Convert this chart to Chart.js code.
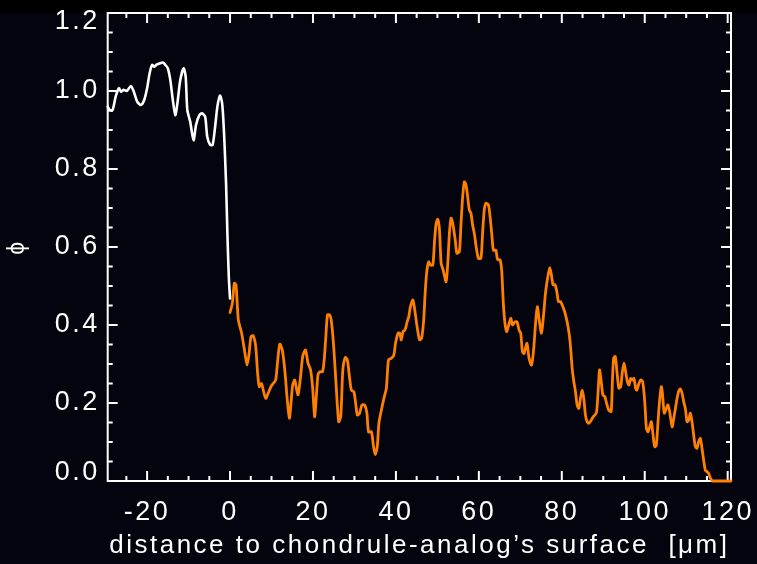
<!DOCTYPE html>
<html><head><meta charset="utf-8">
<script src="https://cdn.jsdelivr.net/npm/chart.js@4"></script>
<style>html,body{margin:0;padding:0;background:#04040e;}#wrap{position:relative;width:757px;height:564px;}</style>
</head><body><div id="wrap"><canvas id="c"></canvas></div>
<script>
const xWhite = [-29.5,-29.0,-28.4,-28.0,-27.6,-26.8,-26.3,-25.7,-24.9,-23.9,-23.2,-22.4,-21.5,-20.7,-20.0,-19.4,-18.8,-18.3,-17.8,-16.8,-16.2,-15.6,-15.0,-14.4,-13.8,-13.2,-12.7,-12.0,-11.2,-10.7,-10.3,-9.6,-8.8,-8.2,-7.4,-6.8,-6.0,-5.5,-4.8,-4.2,-3.6,-3.05,-2.4,-1.9,-1.44,-0.96,-0.64,-0.3,0.0];
const yWhite = [0.96,0.951,0.95,0.964,0.985,1.007,0.998,1.003,1.0,1.013,0.998,0.973,0.964,0.977,1.007,1.045,1.067,1.062,1.067,1.071,1.073,1.067,1.058,1.028,0.977,0.938,0.968,1.028,1.058,1.037,0.951,0.921,0.874,0.913,0.938,0.943,0.934,0.883,0.862,0.862,0.908,0.96,0.988,0.968,0.891,0.763,0.635,0.524,0.468];

const xOrange = [0.0,0.56,1.04,1.44,2.0,2.8,3.6,4.1,4.6,5.05,5.6,6.2,6.65,7.05,7.6,8.0,8.6,9.2,9.86,10.4,11.0,11.5,12.0,12.6,13.2,13.8,14.3,14.7,15.1,15.6,16.0,16.4,17.0,17.55,18.2,18.8,19.4,19.9,20.4,20.8,21.2,21.6,22.3,22.7,23.1,23.5,24.0,24.4,25.0,25.6,26.2,26.7,27.2,27.8,28.3,28.8,29.25,29.9,30.7,31.25,31.8,32.45,33.0,33.4,34.1,34.6,35.0,35.5,35.9,36.5,37.1,37.7,38.2,38.9,39.5,39.9,40.5,40.9,41.3,41.7,42.2,42.7,43.1,43.5,44.1,44.6,45.1,45.7,46.2,46.7,47.0,47.4,47.9,48.3,48.9,49.3,49.7,50.1,50.5,50.9,51.4,52.1,52.5,52.9,53.3,53.7,54.3,54.7,55.3,55.7,56.1,56.5,56.9,57.3,57.7,58.1,58.5,58.9,59.4,59.9,60.5,60.9,61.3,61.7,62.3,62.7,63.1,63.5,64.1,64.5,65.1,65.5,65.9,66.3,66.7,67.1,67.7,68.1,68.7,69.2,69.7,70.1,70.5,70.9,71.6,72.1,72.7,73.2,73.7,74.1,74.5,75.1,75.6,76.1,76.7,77.1,77.5,77.9,78.4,78.8,79.2,79.7,80.4,80.9,81.5,82.0,82.5,82.9,83.3,83.7,84.1,84.5,84.9,85.3,85.7,86.1,86.5,87.1,87.6,88.0,88.4,88.8,89.1,89.5,89.9,90.4,90.8,91.3,91.9,92.2,92.5,92.9,93.3,93.75,94.2,94.6,95.0,95.4,95.8,96.2,96.6,97.0,97.4,97.8,98.1,98.6,99.0,99.5,100.0,100.4,100.8,101.2,101.6,102.0,102.4,102.8,103.2,103.6,104.0,104.3,104.7,105.2,105.6,106.0,106.6,107.0,107.4,107.8,108.2,108.6,109.0,109.4,109.8,110.2,110.6,111.0,111.4,111.8,112.2,112.6,113.0,113.4,113.8,114.2,114.6,115.0,115.4,115.8,116.35,120.8];
const yOrange = [0.432,0.456,0.507,0.503,0.413,0.379,0.327,0.297,0.327,0.370,0.372,0.344,0.276,0.242,0.25,0.233,0.212,0.225,0.242,0.25,0.259,0.31,0.351,0.336,0.285,0.208,0.161,0.199,0.246,0.259,0.238,0.221,0.267,0.321,0.336,0.302,0.286,0.242,0.165,0.216,0.272,0.280,0.28,0.31,0.37,0.426,0.426,0.413,0.344,0.242,0.152,0.165,0.285,0.317,0.31,0.267,0.233,0.228,0.169,0.174,0.195,0.195,0.174,0.126,0.126,0.088,0.068,0.088,0.148,0.182,0.212,0.238,0.31,0.315,0.323,0.353,0.379,0.379,0.362,0.383,0.387,0.408,0.421,0.447,0.464,0.434,0.396,0.362,0.366,0.413,0.473,0.533,0.562,0.554,0.554,0.614,0.661,0.671,0.644,0.558,0.541,0.511,0.558,0.635,0.674,0.661,0.618,0.584,0.588,0.661,0.729,0.767,0.759,0.729,0.695,0.686,0.656,0.635,0.597,0.571,0.571,0.635,0.695,0.712,0.708,0.678,0.635,0.592,0.592,0.568,0.567,0.541,0.456,0.404,0.383,0.396,0.417,0.40,0.408,0.408,0.387,0.379,0.332,0.327,0.353,0.315,0.297,0.336,0.408,0.447,0.417,0.379,0.426,0.485,0.528,0.547,0.528,0.503,0.503,0.485,0.460,0.46,0.443,0.426,0.396,0.357,0.289,0.255,0.229,0.195,0.186,0.212,0.233,0.212,0.169,0.152,0.148,0.156,0.165,0.169,0.178,0.238,0.285,0.255,0.221,0.216,0.199,0.182,0.178,0.255,0.315,0.319,0.280,0.238,0.242,0.280,0.302,0.280,0.255,0.246,0.263,0.259,0.263,0.238,0.233,0.250,0.259,0.255,0.203,0.135,0.126,0.139,0.152,0.118,0.088,0.092,0.152,0.208,0.242,0.221,0.174,0.186,0.195,0.178,0.139,0.161,0.186,0.212,0.231,0.236,0.225,0.203,0.186,0.152,0.156,0.174,0.152,0.118,0.088,0.084,0.101,0.109,0.084,0.054,0.028,0.024,0.020,0.008,0,0];

const xTickValues = [-20,0,20,40,60,80,100,120];
const xTickLabels = ['-20','0','20','40','60','80','100','120'];
const yTickValues = [0,0.2,0.4,0.6,0.8,1.0,1.2];
const yTickLabels = ['0.0','0.2','0.4','0.6','0.8','1.0','1.2'];
const xTitle = 'distance to chondrule-analog\u2019s surface  [\u03BCm]';
const yTitle = '\u03D5';

const FONT = '"Liberation Sans", Arial, Helvetica, "DejaVu Sans", sans-serif';
const BG = '#04040e';

const idx = (arr, v) => arr.findIndex(m => Math.abs(m - v) < 1e-6);

const frame = {
  id: 'frame',
  beforeDraw(chart) {
    const ctx = chart.ctx;
    ctx.save();
    ctx.fillStyle = BG;
    ctx.fillRect(0, 0, chart.width, chart.height);
    ctx.fillStyle = '#000000';
    ctx.fillRect(0, 0, chart.width, 13);
    ctx.restore();
    ctx.letterSpacing = '2.5px';
  },
  beforeDatasetsDraw(chart) {
    const ctx = chart.ctx;
    const {left, right, top, bottom} = chart.chartArea;
    ctx.save();
    ctx.strokeStyle = '#ffffff';
    ctx.lineWidth = 2;
    ctx.lineCap = 'butt';
    ctx.strokeRect(left, top, right - left, bottom - top);
    ctx.beginPath();
    const xs = chart.scales.x;
    xs.ticks.forEach(t => {
      const p = xs.getPixelForValue(t.value);
      const L = idx(xTickValues, t.value) >= 0 ? 10 : 5;
      ctx.moveTo(p, bottom); ctx.lineTo(p, bottom - L);
      ctx.moveTo(p, top); ctx.lineTo(p, top + L);
    });
    const ys = chart.scales.y;
    ys.ticks.forEach(t => {
      const p = ys.getPixelForValue(t.value);
      const L = idx(yTickValues, t.value) >= 0 ? 10 : 5;
      ctx.moveTo(left, p); ctx.lineTo(left + L, p);
      ctx.moveTo(right, p); ctx.lineTo(right - L, p);
    });
    ctx.stroke();
    ctx.restore();
  }
};

new Chart(document.getElementById('c'), {
  type: 'line',
  data: {
    datasets: [
      {
        data: xWhite.map((x, i) => ({x: x, y: yWhite[i]})),
        borderColor: '#ffffff', borderWidth: 2.6, pointRadius: 0, fill: false, tension: 0.25, clip: false,
        borderJoinStyle: 'round', borderCapStyle: 'round'
      },
      {
        data: xOrange.map((x, i) => ({x: x, y: yOrange[i]})),
        borderColor: '#ff8000', borderWidth: 2.8, pointRadius: 0, fill: false, tension: 0.25, clip: false,
        borderJoinStyle: 'round', borderCapStyle: 'round'
      }
    ]
  },
  options: {
    responsive: true,
    maintainAspectRatio: false,
    devicePixelRatio: 1,
    animation: false,
    layout: {padding: {left: 0, right: 26, top: 13, bottom: 0}},
    plugins: {legend: {display: false}, tooltip: {enabled: false}},
    scales: {
      x: {
        type: 'linear', min: -29.5, max: 120.8,
        grid: {display: false, drawTicks: false},
        border: {display: false},
        ticks: {
          stepSize: 5, includeBounds: false, autoSkip: false, maxRotation: 0, minRotation: 0,
          color: '#ffffff', padding: 15,
          font: {family: FONT, size: 27, lineHeight: 1.2},
          callback: v => { const i = idx(xTickValues, v); return i < 0 ? '' : xTickLabels[i]; }
        },
        title: {display: true, text: xTitle, color: '#ffffff', font: {family: FONT, size: 26, lineHeight: 1.2}, padding: {top: 0, bottom: 2.5}},
        afterFit: s => { s.height = 83; s.paddingLeft = 0; s.paddingRight = 0; s.paddingTop = 0; s.paddingBottom = 0; }
      },
      y: {
        type: 'linear', min: 0, max: 1.2,
        grid: {display: false, drawTicks: false},
        border: {display: false},
        ticks: {
          stepSize: 0.05, includeBounds: false, autoSkip: false,
          color: '#ffffff', padding: 8,
          font: {family: FONT, size: 27, lineHeight: '17px'},
          callback: v => {
            const i = idx(yTickValues, v);
            if (i < 0) return '';
            if (i === 0) return [yTickLabels[i], ''];
            if (i === yTickValues.length - 1) return ['', yTickLabels[i]];
            return yTickLabels[i];
          }
        },
        title: {display: true, text: yTitle, color: '#ffffff', font: {family: FONT, size: 23, lineHeight: '24px'}, padding: {top: 6, bottom: 0}},
        afterFit: s => { s.width = 107.7; s.paddingLeft = 0; s.paddingRight = 0; s.paddingTop = 0; s.paddingBottom = 0; }
      }
    }
  },
  plugins: [frame]
});
</script>
</body></html>
